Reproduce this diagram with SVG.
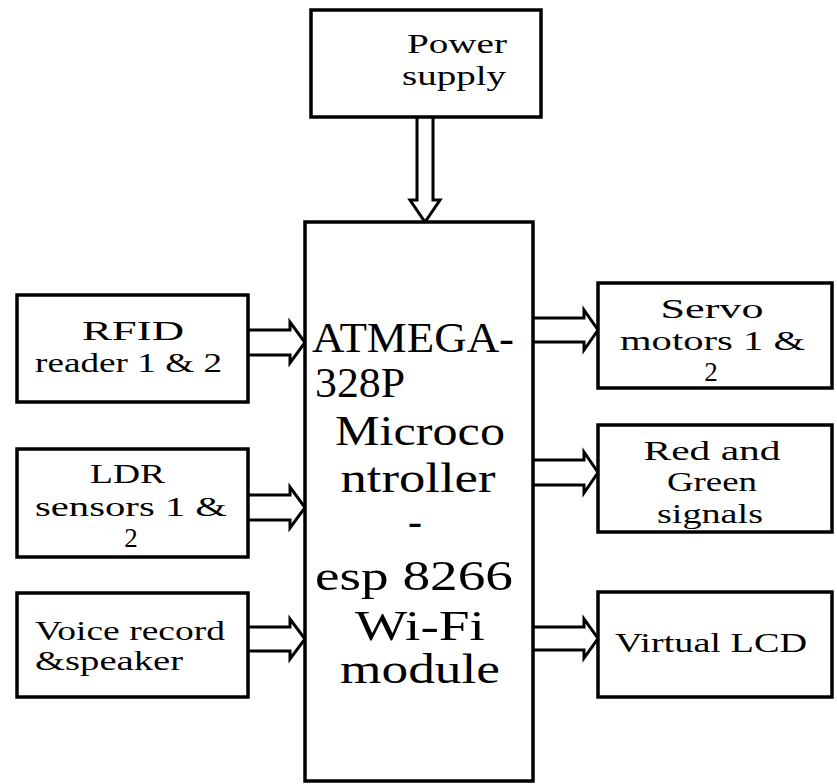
<svg xmlns="http://www.w3.org/2000/svg" width="837" height="784" viewBox="0 0 837 784">
<style>
.box{fill:#fff;stroke:#000;stroke-width:3.5}
.arr{fill:#fff;stroke:#000;stroke-width:3;stroke-linejoin:miter}
text{font-family:'Liberation Serif','Times New Roman',Tinos,Times,serif;fill:#000}
.t{font-size:27px}
.c{font-size:42px}
.m{text-anchor:middle}
</style>
<rect width="837" height="784" fill="#fff"/>
<g id="connectors">
<path class="arr" d="M417,118 V200 H410 L425,222 L440,200 H433 V118"/>
<path class="arr" d="M249,330 H290 V322 L305,342.5 L290,363 V355 H249"/>
<path class="arr" d="M249,495 H290 V487 L305,507.5 L290,528 V520 H249"/>
<path class="arr" d="M249,627 H290 V619 L305,639 L290,659 V651 H249"/>
<path class="arr" d="M534,318 H584 V310 L598,330 L584,350 V342 H534"/>
<path class="arr" d="M534,460 H584 V452 L598,472.5 L584,493 V485 H534"/>
<path class="arr" d="M534,627 H584 V619 L598,638.5 L584,658 V650 H534"/>
</g>
<g id="power">
<rect class="box" x="311" y="10" width="230" height="107"/>
<text class="t" x="407" y="53" textLength="100" lengthAdjust="spacingAndGlyphs">Power</text>
<text class="t" x="402" y="85" textLength="104" lengthAdjust="spacingAndGlyphs">supply</text>
</g>
<g id="mcu">
<rect class="box" x="305" y="222" width="228" height="559"/>
<text class="c" x="312" y="352" textLength="202" lengthAdjust="spacingAndGlyphs">ATMEGA-</text>
<text class="c" x="315" y="397" textLength="90" lengthAdjust="spacingAndGlyphs">328P</text>
<text class="c m" x="420" y="445" textLength="170" lengthAdjust="spacingAndGlyphs">Microco</text>
<text class="c m" x="418" y="492" textLength="155" lengthAdjust="spacingAndGlyphs">ntroller</text>
<text class="c m" x="415" y="535">-</text>
<text class="c m" x="414" y="590" textLength="198" lengthAdjust="spacingAndGlyphs">esp 8266</text>
<text class="c m" x="420" y="640" textLength="130" lengthAdjust="spacingAndGlyphs">Wi-Fi</text>
<text class="c m" x="420" y="683" textLength="160" lengthAdjust="spacingAndGlyphs">module</text>
</g>
<g id="rfid">
<rect class="box" x="17" y="295" width="231" height="107"/>
<text class="t" x="82" y="340" textLength="102" lengthAdjust="spacingAndGlyphs">RFID</text>
<text class="t" x="35" y="372" textLength="187" lengthAdjust="spacingAndGlyphs">reader 1 &amp; 2</text>
</g>
<g id="ldr">
<rect class="box" x="17" y="449" width="231" height="108"/>
<text class="t" x="90" y="483" textLength="75" lengthAdjust="spacingAndGlyphs">LDR</text>
<text class="t" x="35" y="516" textLength="192" lengthAdjust="spacingAndGlyphs">sensors 1 &amp;</text>
<text class="t m" x="131" y="547">2</text>
</g>
<g id="voice">
<rect class="box" x="17" y="593" width="231" height="104"/>
<text class="t" x="35" y="640" textLength="190" lengthAdjust="spacingAndGlyphs">Voice record</text>
<text class="t" x="35" y="670" textLength="148" lengthAdjust="spacingAndGlyphs">&amp;speaker</text>
</g>
<g id="servo">
<rect class="box" x="598" y="283" width="234" height="105"/>
<text class="t m" x="712" y="318" textLength="103" lengthAdjust="spacingAndGlyphs">Servo</text>
<text class="t" x="620" y="350" textLength="185" lengthAdjust="spacingAndGlyphs">motors 1 &amp;</text>
<text class="t m" x="711" y="381">2</text>
</g>
<g id="signals">
<rect class="box" x="598" y="425" width="234" height="107"/>
<text class="t m" x="712" y="460" textLength="137" lengthAdjust="spacingAndGlyphs">Red and</text>
<text class="t m" x="712" y="491" textLength="90" lengthAdjust="spacingAndGlyphs">Green</text>
<text class="t m" x="710" y="523" textLength="106" lengthAdjust="spacingAndGlyphs">signals</text>
</g>
<g id="lcd">
<rect class="box" x="598" y="592" width="234" height="105"/>
<text class="t" x="615" y="652" textLength="192" lengthAdjust="spacingAndGlyphs">Virtual LCD</text>
</g>
</svg>
